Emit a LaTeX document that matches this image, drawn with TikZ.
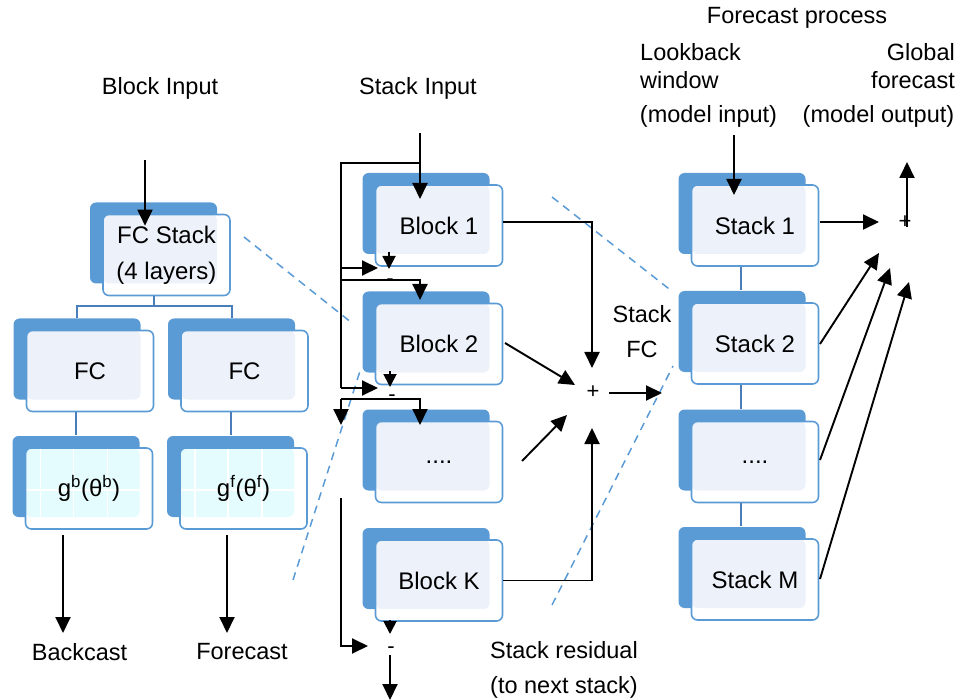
\documentclass[tikz,border=0pt]{standalone}
\usepackage{fontspec}
\setmainfont{Liberation Sans}
\usetikzlibrary{arrows.meta}
\definecolor{cardblue}{HTML}{5B9BD5}
\definecolor{cardlight}{HTML}{EDF2FA}
\definecolor{gridlight}{HTML}{E4FCFD}
\definecolor{treeblue}{HTML}{4A7EBB}
\tikzset{
  cardbase/.style={draw=cardblue, line width=1.6pt, fill=white, rounded corners=6pt,
    minimum width=127pt, minimum height=81pt, inner sep=0pt, align=center,
    font=\fontsize{24}{36}\selectfont,
    preaction={fill=cardblue, transform canvas={shift={(-13pt,12pt)}}}},
  card/.style={cardbase, path picture={
    \fill[cardlight, rounded corners=6pt] (path picture bounding box.north west)
      rectangle ([shift={(-13pt,12pt)}]path picture bounding box.south east);}},
  gcard/.style={cardbase, path picture={
    \fill[gridlight, rounded corners=6pt] (path picture bounding box.north west)
      rectangle ([shift={(-13pt,12pt)}]path picture bounding box.south east);
    \foreach \dx in {15,48,82}
      \draw[white, line width=1.2pt] ([xshift=\dx pt]path picture bounding box.north west) -- ++(0,69);
    \draw[white, line width=1.2pt] ([yshift=-42pt]path picture bounding box.north west) -- ++(114,0);}},
  txt/.style={inner sep=0pt, font=\fontsize{23.5}{28}\selectfont},
  sign/.style={inner sep=0pt, font=\fontsize{22}{26}\selectfont},
  arr/.style={-{Triangle[length=16pt,width=15pt]}, line width=1.9pt},
  arrs/.style={-{Triangle[length=13pt,width=13pt]}, line width=1.9pt},
  bus/.style={line width=1.9pt},
  tree/.style={draw=treeblue, line width=2pt},
  dashline/.style={draw=cardblue, line width=1.5pt, dash pattern=on 8pt off 6pt}
}
\begin{document}
\begin{tikzpicture}[x=1pt,y=-1pt]
\useasboundingbox (0,0) rectangle (958,700);

% dashed guide lines
\coordinate (d1a) at (244,237); \coordinate (d1b) at (352,323);
\coordinate (d2a) at (293,580); \coordinate (d2b) at (361,368);
\coordinate (d3a) at (552,197); \coordinate (d3b) at (673,292);
\coordinate (d4a) at (552,605); \coordinate (d4b) at (673,366);
\draw[dashline] (d1a) -- (d1b);
\draw[dashline] (d2a) -- (d2b);
\draw[dashline] (d3a) -- (d3b);
\draw[dashline] (d4a) -- (d4b);

% left column (block)
\node[card] (fcs) at (166.5,255) {FC Stack\\(4 layers)};
\node[card] (fcL) at (90,371) {FC};
\node[card] (fcR) at (244.5,371) {FC};
\node[gcard] (gL) at (89,488.5) {g\textsuperscript{b}(θ\textsuperscript{b})};
\node[gcard] (gR) at (243.5,488.5) {g\textsuperscript{f}(θ\textsuperscript{f})};

% middle column (stack)
\node[card] (b1) at (439,225.5) {Block 1};
\node[card] (b2) at (439,344) {Block 2};
\node[card] (bd) at (439,462) {....};
\node[card] (bK) at (439,580.5) {Block K};

% right column (forecast)
\node[card] (s1) at (755,225.5) {Stack 1};
\node[card] (s2) at (755,343.5) {Stack 2};
\node[card] (sd) at (755,462) {....};
\node[card] (sM) at (755,579.5) {Stack M};

% texts
\node[txt] (tBI) at (160,88) {Block Input};
\node[txt] (tSI) at (418,88) {Stack Input};
\node[txt] (tBC) at (79.5,652) {Backcast};
\node[txt] (tFC) at (242,652) {Forecast};
\node[txt, align=center, font=\fontsize{23.5}{35}\selectfont] (tSFC) at (642,332) {Stack\\FC};
\node[txt, align=left, anchor=west, font=\fontsize{23.5}{35}\selectfont] (tSR) at (490,669.5) {Stack residual\\(to next stack)};
\node[txt] (tFP) at (797,18) {Forecast process};
\node[txt, align=left, anchor=west] (tLW) at (640,66) {Lookback\\window};
\node[txt] (tMI) at (708.5,116) {(model input)};
\node[txt, align=right, anchor=east] (tGF) at (955,66) {Global\\forecast};
\node[txt] (tMO) at (878.5,116) {(model output)};

% signs
\node[sign] (m1) at (390,282) {-};
\node[sign] (m2) at (392,398) {-};
\node[sign] (m3) at (391,650) {-};
\node[sign] (pM) at (593,392) {+};
\node[sign] (pR) at (905,222) {+};

% left connectors
\coordinate (biIn) at (145,160);
\draw[arr] (biIn) -- ([yshift=-12pt]biIn |- fcs.north);
\draw[tree] ([xshift=-13pt]fcs.south) -- ++(0,10) coordinate (tj);
\draw[tree] ([xshift=-13pt,yshift=12pt]fcL.north) |- (tj) -| ([xshift=-13pt,yshift=12pt]fcR.north);
\draw[tree] ([xshift=-14pt]fcL.south) -- ([xshift=-14pt,yshift=12pt]fcL.south |- gL.north);
\draw[tree] ([xshift=-14pt]fcR.south) -- ([xshift=-14pt,yshift=12pt]fcR.south |- gR.north);
\coordinate (bcEnd) at (63,633);
\coordinate (fcEnd) at (227,633);
\draw[arr] (63,535) -- (bcEnd);
\draw[arr] (227,535) -- (fcEnd);

% middle residual connectors
\coordinate (siTop) at (420,133);
\coordinate (sBr) at (420,163);
\coordinate (busL) at (341,163);
\draw[arr] (siTop) -- (420,199);
\draw[bus] (sBr) -- (busL) -- (341,388);
\draw[arr] (341,268) -- (378,268);
\draw[arr] (341,388) -- (378,388);
\draw[arr] (341,280) -| (420,300);
\draw[arr] (341,399) -| (420,425);
\draw[arr] (341,399) -- (341,425);
\draw[arrs] (389,252) -- (389,269);
\draw[arrs] (390,371) -- (390,387);
\draw[arrs] (390,620) -- (390,634);
\draw[arr] (341,498) |- (368,646);
\draw[arr] (390,655) -- (390,700);

% middle sum connectors
\draw[arr] (503,222) -| (592,368);
\draw[arr] (505,343) -- (575,385);
\draw[arr] (522,461) -- (567,415);
\draw[arr] (bK.east) -| (592,428);
\draw[arr] (609,393) -- (662,393);

% right connectors
\draw[arr] (734,135) -- (734,195);
\draw[tree] ([xshift=-14pt]s1.south) -- ([xshift=-14pt,yshift=12pt]s1.south |- s2.north);
\draw[tree] ([xshift=-14pt]s2.south) -- ([xshift=-14pt,yshift=12pt]s2.south |- sd.north);
\draw[tree] ([xshift=-14pt]sd.south) -- ([xshift=-14pt,yshift=12pt]sd.south |- sM.north);
\draw[arr] (820,222) -- (879,222);
\draw[arr] (907,227) -- (907,162);
\draw[arr] (820,344) -- (879,253);
\draw[arr] (820,460) -- (890,268);
\draw[arr] (820,579) -- (909,282);
\end{tikzpicture}
\end{document}
